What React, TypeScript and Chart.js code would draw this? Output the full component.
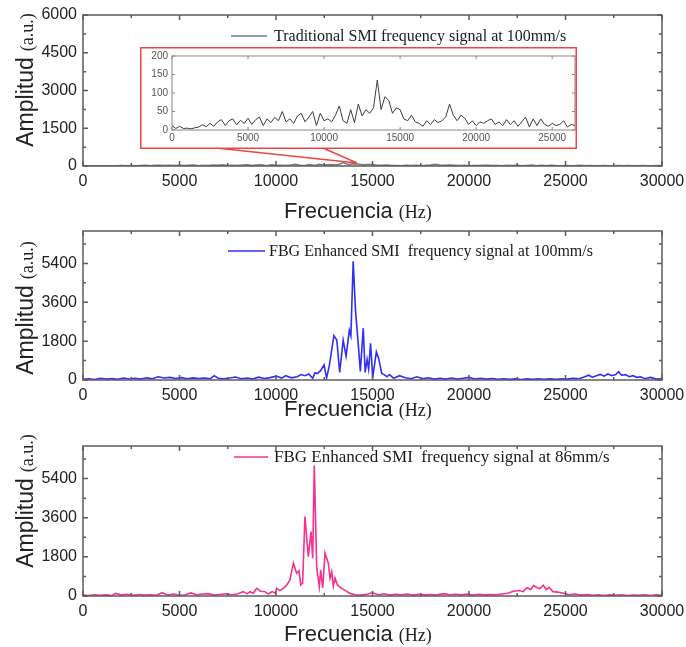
import React, { useEffect, useRef } from "react";
import { Chart, registerables } from "chart.js";

Chart.register(...registerables);

// ---------------- DATA ----------------
const X_MIN = 0;
const X_MAX = 30000;
const xTicks = [0, 5000, 10000, 15000, 20000, 25000, 30000];
const tradYTicks = [0, 1500, 3000, 4500, 6000];
const fbgYTicks = [0, 1800, 3600, 5400];
const insetXTicks = [0, 5000, 10000, 15000, 20000, 25000];
const insetYTicks = [0, 50, 100, 150, 200];

const TITLE_X_MAIN = "Frecuencia";
const TITLE_X_UNIT = "(Hz)";
const TITLE_Y_MAIN = "Amplitud";
const TITLE_Y_UNIT = "(a.u.)";

const tradLabel = "Traditional SMI frequency signal at 100mm/s";
const fbg100Label = "FBG Enhanced SMI  frequency signal at 100mm/s";
const fbg86Label = "FBG Enhanced SMI  frequency signal at 86mm/s";

const tradFreq = [
  0, 250, 500, 750, 1000, 1250, 1500, 1750, 2000, 2250,
  2500, 2750, 3000, 3250, 3500, 3750, 4000, 4250, 4500, 4750,
  5000, 5250, 5500, 5750, 6000, 6250, 6500, 6750, 7000, 7250,
  7500, 7750, 8000, 8250, 8500, 8750, 9000, 9250, 9500, 9750,
  10000, 10250, 10500, 10750, 11000, 11250, 11500, 11750, 12000, 12250,
  12500, 12750, 13000, 13250, 13500, 13750, 14000, 14250, 14500, 14750,
  15000, 15250, 15500, 15750, 16000, 16250, 16500, 16750, 17000, 17250,
  17500, 17750, 18000, 18250, 18500, 18750, 19000, 19250, 19500, 19750,
  20000, 20250, 20500, 20750, 21000, 21250, 21500, 21750, 22000, 22250,
  22500, 22750, 23000, 23250, 23500, 23750, 24000, 24250, 24500, 24750,
  25000, 25250, 25500, 25750, 26000, 26250, 26500,
  26750, 27000, 27250, 27500, 27750, 28000, 28250, 28500, 28750, 29000, 29250, 29500, 29750, 30000,
];
const tradAmp = [
  12, 4, 10, 4, 5, 3, 6, 8, 14, 9,
  18, 10, 22, 28, 12, 25, 30, 14, 26, 18,
  32, 15, 28, 35, 12, 30, 20, 34, 25, 50,
  22, 30, 18, 38, 45, 22, 35, 50, 12, 45,
  25, 30, 22, 40, 65, 25, 18, 55, 20, 70,
  38, 55, 45, 60, 135, 55, 90, 80, 45, 60,
  55, 30, 25, 40, 22, 18, 10, 25, 15, 28,
  20, 25, 35, 70, 40, 25, 40, 32, 15, 25,
  12, 22, 18, 25, 30, 15, 22, 12, 28, 15,
  25, 10, 22, 35, 8, 30, 12, 30, 15, 10,
  18, 12, 15, 25, 8, 15, 12,
  10, 15, 8, 12, 20, 10, 14, 8, 12, 18, 10, 9, 14, 10,
];

const fbg100Freq = [
  0, 300, 600, 900, 1200, 1500, 1800, 2100, 2400, 2700, 3000, 3300, 3600, 3900, 4200, 4500, 4800,
  5100, 5400, 5700, 6000, 6300, 6600, 6800, 7000, 7300, 7600, 7900, 8200, 8500, 8800, 9100, 9400,
  9700, 10000, 10300, 10500, 10800, 11100, 11300, 11500, 11700, 11900, 12020, 12150, 12300, 12490,
  12620, 12760, 13000, 13150, 13300, 13480, 13630, 13800, 13880, 14000, 14120, 14250, 14370, 14520,
  14620, 14720, 14800, 14900, 15010, 15200, 15320, 15480, 15600, 15750, 15880, 16100, 16400, 16700,
  17000, 17300, 17600, 17900, 18200, 18500, 18800, 19100, 19400, 19700, 20000, 20300, 20600, 20900,
  21200, 21500, 21800, 22100, 22400, 22700, 23000, 23300, 23600, 23900, 24200, 24500, 24800, 25100,
  25400, 25700, 26000, 26200, 26400, 26600, 26800, 27000, 27200, 27400, 27600, 27750, 27900, 28100,
  28300, 28500, 28700, 28900, 29100, 29400, 29700, 30000,
];
const fbg100Amp = [
  30, 60, 20, 80, 40, 70, 30, 90, 50, 80, 40, 100, 60, 150, 90, 120, 70,
  110, 60, 100, 70, 90, 60, 200, 80, 60, 90, 140, 60, 90, 50, 130, 70,
  110, 180, 90, 200, 100, 150, 250, 200, 280, 80, 340, 300, 420, 700,
  90, 650, 2050, 1850, 350, 1850, 1100, 2300, 2050, 5500, 3200, 1800, 400, 2400,
  350, 950, 500, 1700, 120, 1300, 1000, 300, 250, 150, 250, 80, 200, 100,
  60, 150, 60, 100, 40, 80, 40, 90, 50, 80, 120, 50, 80, 40,
  70, 30, 60, 30, 50, 20, 50, 30, 60, 30, 50, 30, 60, 40,
  80, 60, 150, 220, 130, 200, 260, 180, 280, 200, 250, 380, 220, 250,
  150, 200, 120, 150, 60, 120, 40, 60,
];

const fbg86Freq = [
  0, 300, 600, 900, 1200, 1500, 1700, 2000, 2300, 2600, 2900, 3200, 3500, 3800, 4100, 4400, 4700,
  5000, 5300, 5600, 5900, 6200, 6500, 6800, 7100, 7400, 7700, 8000, 8300, 8500, 8650, 8825, 9000,
  9200, 9430, 9600, 9800, 9965, 10035, 10200, 10380, 10550, 10720, 10900, 11070, 11190, 11280, 11380,
  11500, 11675, 11815, 11900, 11985, 12110, 12245, 12315, 12420, 12540, 12710, 12800, 12885, 12970,
  13060, 13180, 13400, 13600, 13830, 14100, 14400, 14700, 15000, 15300, 15600, 15900, 16200, 16500,
  16800, 17100, 17400, 17700, 18000, 18300, 18700, 19000, 19300, 19600, 19900, 20200, 20500, 20800,
  21100, 21400, 21700, 22000, 22300, 22600, 22800, 23000, 23200, 23350, 23500, 23650, 23850, 24000,
  24150, 24350, 24600, 24900, 25200, 25500, 25800, 26100, 26400, 26700, 27000, 27300, 27600, 27900,
  28200, 28500, 28800, 29100, 29400, 29700, 30000,
];
const fbg86Amp = [
  40, 20, 60, 30, 50, 20, 120, 40, 80, 30, 70, 40, 60, 30, 150, 40, 90,
  30, 60, 140, 50, 90, 110, 40, 70, 100, 60, 90, 200, 100, 200, 130, 350,
  220, 200, 90, 200, 130, 350, 250, 350, 500, 740, 1510, 1050, 1170, 510, 590,
  3660, 1810, 2970, 1740, 6000, 1280, 430, 1200, 370, 1970, 1510, 820, 1120, 460,
  830, 510, 350, 250, 120, 60, 40, 80, 150, 60, 100, 40, 80, 50,
  90, 40, 80, 50, 70, 40, 110, 60, 80, 50, 90, 40, 80, 50,
  70, 60, 90, 130, 220, 250, 200, 380, 300, 480, 400, 330, 500, 300,
  400, 200, 180, 130, 60, 90, 40, 70, 30, 60, 20, 50, 30, 60,
  20, 40, 30, 60, 20, 50, 30,
];

// ---------------- STYLE HELPERS ----------------
const SANS = '"Liberation Sans", Arial, Helvetica, sans-serif';
const SERIF = '"Liberation Serif", "Times New Roman", Times, serif';
const FRAME = "#5c5c5c";
const TEXT = "#222222";

function pts(freq: number[], amp: number[]) {
  return freq.map((f, i) => ({ x: f, y: amp[i] }));
}

function fixedTicks(values: number[]) {
  return (s: any) => {
    s.ticks = values.map((v) => ({ value: v }));
  };
}

function frameTicksPlugin(o: {
  xMajor: number; xMinor: number; yMajor: number; yMinor: number;
  major: number; minor: number; color: string; width: number;
}) {
  return {
    id: "frameTicks",
    afterDatasetsDraw(chart: any) {
      const { ctx, chartArea: a, scales } = chart;
      const xs = scales.x, ys = scales.y;
      ctx.save();
      ctx.strokeStyle = o.color;
      ctx.lineWidth = o.width;
      ctx.beginPath();
      for (let v = xs.min; v <= xs.max + 1e-6; v += o.xMinor) {
        const p = xs.getPixelForValue(v);
        const len = Math.abs(v % o.xMajor) < 1e-6 ? o.major : o.minor;
        ctx.moveTo(p, a.bottom); ctx.lineTo(p, a.bottom - len);
        ctx.moveTo(p, a.top); ctx.lineTo(p, a.top + len);
      }
      for (let v = ys.min; v <= ys.max + 1e-6; v += o.yMinor) {
        const p = ys.getPixelForValue(v);
        const len = Math.abs(v % o.yMajor) < 1e-6 ? o.major : o.minor;
        ctx.moveTo(a.left, p); ctx.lineTo(a.left + len, p);
        ctx.moveTo(a.right, p); ctx.lineTo(a.right - len, p);
      }
      ctx.stroke();
      ctx.strokeRect(a.left, a.top, a.right - a.left, a.bottom - a.top);
      ctx.restore();
    },
  };
}

function decorPlugin(o: {
  xTitleX: number; xTitleY: number; yTitleX: number; yTitleY: number;
  legY: number; legX0: number; legX1: number; legTextX: number; legSize: number;
}) {
  return {
    id: "decor",
    afterDraw(chart: any) {
      const ctx = chart.ctx;
      const ds = chart.data.datasets[0];
      ctx.save();
      ctx.fillStyle = TEXT;
      ctx.textAlign = "left";
      ctx.textBaseline = "alphabetic";
      // x title
      ctx.font = `22px ${SANS}`;
      const w1 = ctx.measureText(TITLE_X_MAIN).width;
      ctx.fillText(TITLE_X_MAIN, o.xTitleX, o.xTitleY + 8);
      ctx.font = `18px ${SERIF}`;
      ctx.fillText(TITLE_X_UNIT, o.xTitleX + w1 + 6, o.xTitleY + 8);
      // y title
      ctx.save();
      ctx.translate(o.yTitleX, o.yTitleY);
      ctx.rotate(-Math.PI / 2);
      ctx.font = `23px ${SANS}`;
      const a1 = ctx.measureText(TITLE_Y_MAIN).width;
      ctx.font = `18px ${SERIF}`;
      const a2 = ctx.measureText(TITLE_Y_UNIT).width;
      const total = a1 + 6 + a2;
      ctx.font = `23px ${SANS}`;
      ctx.fillText(TITLE_Y_MAIN, -total / 2, 8);
      ctx.font = `18px ${SERIF}`;
      ctx.fillText(TITLE_Y_UNIT, -total / 2 + a1 + 6, 8);
      ctx.restore();
      // legend
      ctx.strokeStyle = ds.borderColor;
      ctx.lineWidth = 1.6;
      ctx.beginPath();
      ctx.moveTo(o.legX0, o.legY);
      ctx.lineTo(o.legX1, o.legY);
      ctx.stroke();
      ctx.font = `${o.legSize}px ${SERIF}`;
      ctx.fillStyle = "#1a1a1a";
      ctx.textBaseline = "middle";
      ctx.fillText(ds.label, o.legTextX, o.legY + 1);
      ctx.restore();
    },
  };
}

const calloutPlugin = {
  id: "callout",
  afterDraw(chart: any) {
    const ctx = chart.ctx;
    ctx.save();
    ctx.strokeStyle = "#ec4545";
    ctx.lineWidth = 1.5;
    ctx.beginPath();
    ctx.moveTo(216, 148); ctx.lineTo(357, 163);
    ctx.moveTo(323, 148); ctx.lineTo(357, 163);
    ctx.stroke();
    ctx.restore();
  },
};

const insetBoxPlugin = {
  id: "insetBox",
  afterDraw(chart: any) {
    const ctx = chart.ctx;
    ctx.save();
    ctx.strokeStyle = "#ec4545";
    ctx.lineWidth = 1.5;
    ctx.strokeRect(0.75, 0.75, chart.width - 1.5, chart.height - 1.5);
    ctx.restore();
  },
};

const plainNum = (v: any) => String(v);

function mainConfig(p: {
  freq: number[]; amp: number[]; label: string; color: string;
  yMax: number; yTicks: number[]; H: number; top: number; bottom: number;
  decor: any; extra?: any[];
}) {
  const yStep = p.yTicks[1] - p.yTicks[0];
  const xStep = xTicks[1] - xTicks[0];
  return {
    type: "line" as const,
    data: {
      datasets: [
        {
          label: p.label,
          data: pts(p.freq, p.amp),
          borderColor: p.color,
          borderWidth: 1.6,
          pointRadius: 0,
          tension: 0,
          fill: false,
        },
      ],
    },
    options: {
      animation: false as const,
      responsive: false,
      devicePixelRatio: 1,
      layout: { padding: { left: 0, right: 24, top: p.top, bottom: 0 } },
      plugins: { legend: { display: false }, tooltip: { enabled: false }, title: { display: false } },
      scales: {
        x: {
          type: "linear" as const,
          min: X_MIN,
          max: X_MAX,
          grid: { display: false, drawTicks: false },
          border: { display: false },
          afterBuildTicks: fixedTicks(xTicks),
          ticks: {
            autoSkip: false,
            maxRotation: 0,
            padding: 6,
            color: TEXT,
            font: { family: SANS, size: 16 },
            callback: plainNum,
          },
          afterFit: (s: any) => {
            s.height = p.H - p.bottom;
            s.paddingLeft = 0; s.paddingRight = 0; s.paddingTop = 0; s.paddingBottom = 0;
          },
        },
        y: {
          min: 0,
          max: p.yMax,
          grid: { display: false, drawTicks: false },
          border: { display: false },
          afterBuildTicks: fixedTicks(p.yTicks),
          ticks: {
            padding: 6,
            color: TEXT,
            font: { family: SANS, size: 16 },
            callback: plainNum,
          },
          afterFit: (s: any) => {
            s.width = 83;
            s.paddingLeft = 0; s.paddingRight = 0; s.paddingTop = 0; s.paddingBottom = 0;
          },
        },
      },
    },
    plugins: [
      frameTicksPlugin({
        xMajor: xStep, xMinor: xStep / 2, yMajor: yStep, yMinor: yStep / 2,
        major: 5, minor: 3, color: FRAME, width: 1.5,
      }),
      decorPlugin(p.decor),
      ...(p.extra || []),
    ],
  };
}

function insetConfig() {
  const H = 102;
  return {
    type: "line" as const,
    data: {
      datasets: [
        {
          label: tradLabel,
          data: pts(tradFreq, tradAmp),
          borderColor: "#3c3c3c",
          borderWidth: 1,
          pointRadius: 0,
          tension: 0,
          fill: false,
        },
      ],
    },
    options: {
      animation: false as const,
      responsive: false,
      devicePixelRatio: 1,
      layout: { padding: { left: 0, right: 2, top: 9, bottom: 0 } },
      plugins: { legend: { display: false }, tooltip: { enabled: false } },
      scales: {
        x: {
          type: "linear" as const,
          min: 0,
          max: 26500,
          grid: { display: false, drawTicks: false },
          border: { display: false },
          afterBuildTicks: fixedTicks(insetXTicks),
          ticks: {
            autoSkip: false,
            maxRotation: 0,
            padding: 2,
            color: "#555",
            font: { family: SANS, size: 10 },
            callback: plainNum,
          },
          afterFit: (s: any) => {
            s.height = H - 83;
            s.paddingLeft = 0; s.paddingRight = 0; s.paddingTop = 0; s.paddingBottom = 0;
          },
        },
        y: {
          min: 0,
          max: 200,
          grid: { display: false, drawTicks: false },
          border: { display: false },
          afterBuildTicks: fixedTicks(insetYTicks),
          ticks: {
            padding: 4,
            color: "#555",
            font: { family: SANS, size: 10 },
            callback: plainNum,
          },
          afterFit: (s: any) => {
            s.width = 32;
            s.paddingLeft = 0; s.paddingRight = 0; s.paddingTop = 0; s.paddingBottom = 0;
          },
        },
      },
    },
    plugins: [
      frameTicksPlugin({
        xMajor: 5000, xMinor: 5000, yMajor: 50, yMinor: 50,
        major: 3, minor: 3, color: "#888", width: 1,
      }),
      insetBoxPlugin,
    ],
  };
}

export default function App() {
  const c1 = useRef<HTMLCanvasElement>(null);
  const c2 = useRef<HTMLCanvasElement>(null);
  const c3 = useRef<HTMLCanvasElement>(null);
  const cIn = useRef<HTMLCanvasElement>(null);

  useEffect(() => {
    const charts: Chart[] = [];
    charts.push(
      new Chart(
        c1.current as HTMLCanvasElement,
        mainConfig({
          freq: tradFreq, amp: tradAmp, label: tradLabel, color: "#7a7a7a",
          yMax: 6000, yTicks: tradYTicks, H: 222, top: 15, bottom: 166,
          decor: { xTitleX: 284, xTitleY: 210, yTitleX: 25, yTitleY: 80, legY: 36, legX0: 231, legX1: 267, legTextX: 274, legSize: 16 },
          extra: [calloutPlugin],
        }) as any
      )
    );
    charts.push(
      new Chart(
        c2.current as HTMLCanvasElement,
        mainConfig({
          freq: fbg100Freq, amp: fbg100Amp, label: fbg100Label, color: "#2f2ff5",
          yMax: 6900, yTicks: fbgYTicks, H: 203, top: 9, bottom: 158,
          decor: { xTitleX: 284, xTitleY: 186, yTitleX: 25, yTitleY: 86, legY: 29, legX0: 228, legX1: 265, legTextX: 269, legSize: 16 },
        }) as any
      )
    );
    charts.push(
      new Chart(
        c3.current as HTMLCanvasElement,
        mainConfig({
          freq: fbg86Freq, amp: fbg86Amp, label: fbg86Label, color: "#f5308e",
          yMax: 6900, yTicks: fbgYTicks, H: 222, top: 21, bottom: 171,
          decor: { xTitleX: 284, xTitleY: 208, yTitleX: 25, yTitleY: 76, legY: 32, legX0: 234, legX1: 268, legTextX: 274, legSize: 17 },
        }) as any
      )
    );
    charts.push(new Chart(cIn.current as HTMLCanvasElement, insetConfig() as any));
    return () => charts.forEach((c) => c.destroy());
  }, []);

  const abs = (left: number, top: number): React.CSSProperties => ({ position: "absolute", left, top, display: "block" });

  return (
    <div style={{ position: "absolute", left: 0, top: 0, width: 686, height: 647, background: "#fff", overflow: "hidden" }}>
      <canvas ref={c1} width={686} height={222} style={abs(0, 0)} />
      <canvas ref={c2} width={686} height={203} style={abs(0, 222)} />
      <canvas ref={c3} width={686} height={222} style={abs(0, 425)} />
      <canvas ref={cIn} width={437} height={102} style={{ ...abs(140, 47), background: "#fff" }} />
    </div>
  );
}
